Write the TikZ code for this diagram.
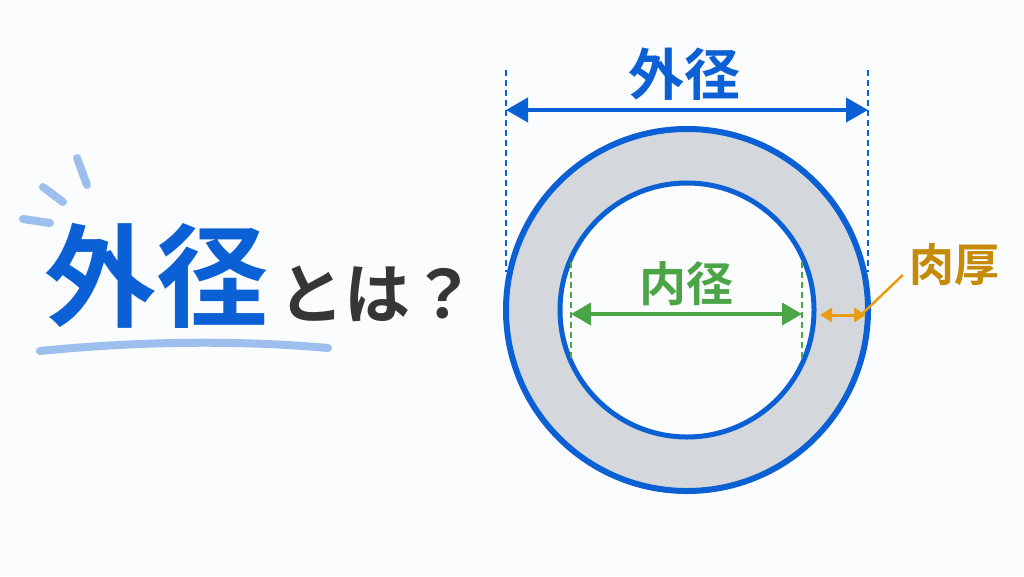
\documentclass[tikz,border=0pt]{standalone}
\usepackage{fontspec}
\newfontfamily\jpfont{Noto Sans CJK JP Bold}
\usetikzlibrary{arrows.meta}
\definecolor{keiblue}{HTML}{0A60D4}
\definecolor{lightblue}{HTML}{9DBFEE}
\definecolor{ringgray}{HTML}{D4D8DC}
\definecolor{naigreen}{HTML}{4BA547}
\definecolor{nikuorange}{HTML}{E99B14}
\definecolor{nikugold}{HTML}{C48A08}
\definecolor{textgray}{HTML}{363636}
\definecolor{bgwhite}{HTML}{FBFCFD}
\tikzset{
  guide/.style={line width=2pt, dash pattern=on 6pt off 4pt},
  spark/.style={lightblue, line width=8pt, line cap=round},
  jp/.style={inner sep=0pt, font=\jpfont\fontsize{#1}{#1}\selectfont},
}
\begin{document}
\begin{tikzpicture}[>=Stealth, x=1pt, y=-1pt]
		\fill[bgwhite] (0,0) rectangle (1024,576);
		\useasboundingbox (0,0) rectangle (1024,576);
		% title
		\node[jp=112, text=keiblue, anchor=base west] (title) at (44,318) {外径};
		\node[jp=66, text=textgray, anchor=base west] (toha) at ([xshift=10pt]title.base east) {とは？};
		\foreach \a/\b in {{(23,219)}/{(50,223)},{(43,187)}/{(63,202)},{(77,158)}/{(87,185)}}
		\draw[spark] \a -- \b;
		\draw[spark] (40,351) .. controls (150,340) and (250,341) .. (328,348);
		% ring
		\coordinate (C) at (687,310);
		\fill[ringgray, even odd rule] (C) circle (181) (C) circle (127);
		\draw[keiblue, line width=6pt] (C) circle (181);
		\draw[keiblue, line width=5pt] (C) circle (127);
		% outer diameter
		\coordinate (OL) at (506,110);
		\coordinate (OR) at (868,110);
		\draw[guide, keiblue] (506,70) -- (506,272);
		\draw[guide, keiblue] (868,70) -- (868,272);
		\draw[<->, keiblue, line width=4pt, >={Triangle[length=22pt,width=24pt]}] (OL) -- (OR);
		\node[jp=56, text=keiblue] (gaikei) at (684,74) {外径};
		% inner diameter
		\coordinate (IL) at (571,314);
		\coordinate (IR) at (802,314);
		\draw[guide, naigreen] (571,262) -- (571,358);
		\draw[guide, naigreen] (802,262) -- (802,358);
		\draw[<->, naigreen, line width=4pt, >={Triangle[length=20pt,width=22pt]}] (IL) -- (IR);
		\node[jp=47, text=naigreen] (naikei) at (686,284) {内径};
		% wall thickness
		\coordinate (TL) at (820,315);
		\coordinate (TR) at (866,315);
		\draw[<->, nikuorange, line width=3pt, >={Triangle[length=12pt,width=14pt]}] (TL) -- (TR);
		\node[jp=45, text=nikugold] (nikuatsu) at (954,265) {肉厚};
		\coordinate (T) at (863,313);
		\draw[nikuorange, line width=2.5pt] (T) -- ([xshift=-6pt,yshift=-10pt]nikuatsu.west);
\end{tikzpicture}
\end{document}
